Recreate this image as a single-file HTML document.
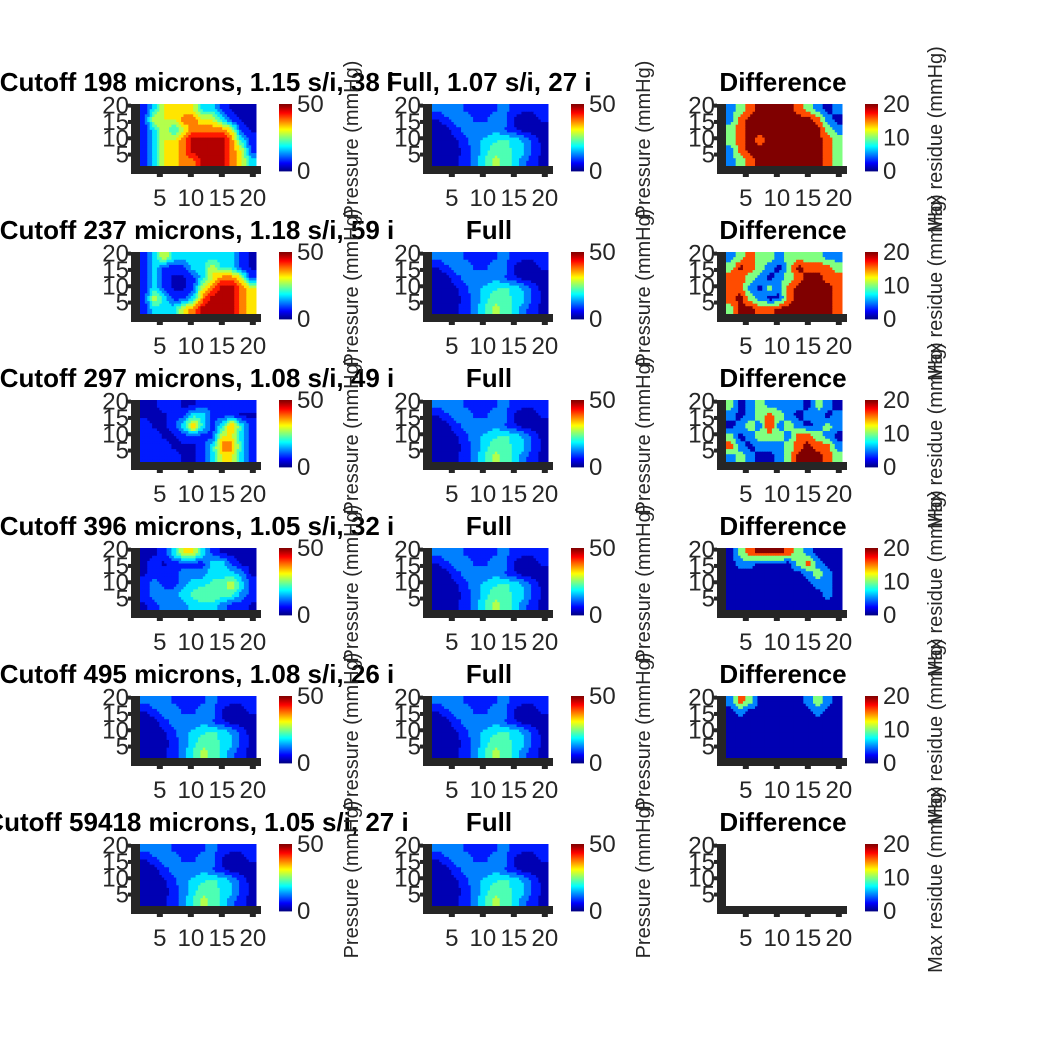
<!DOCTYPE html>
<html><head><meta charset="utf-8">
<style>
body{margin:0;background:#fff;}
svg{display:block;font-family:"Liberation Sans",Arial,sans-serif;}
</style></head>
<body>
<svg id="fig" width="1042" height="1042" viewBox="0 0 1042 1042"></svg>
<script>
// ---- data ----
const titles = [
 ["Cutoff 198 microns, 1.15 s/i, 38 i","Full, 1.07 s/i, 27 i","Difference"],
 ["Cutoff 237 microns, 1.18 s/i, 59 i","Full","Difference"],
 ["Cutoff 297 microns, 1.08 s/i, 49 i","Full","Difference"],
 ["Cutoff 396 microns, 1.05 s/i, 32 i","Full","Difference"],
 ["Cutoff 495 microns, 1.08 s/i, 26 i","Full","Difference"],
 ["Cutoff 59418 microns, 1.05 s/i, 27 i","Full","Difference"]
];
const xTicks = [5,10,15,20];
const yTicks = [5,10,15,20];
const pressureMax = 50;
const residueMax = 20;
const pressureTicks = [0,50];
const residueTicks = [0,10,20];
const residueLevels = [1,5,10,16,20];
const fullGrid = [
 [12,13,12,9,8,8,9,12,8,6,6,8],
 [4,9,13,13,9,9,13,12,4,2,3,6],
 [2,3,8,12,13,12,14,10,6,3,2,2],
 [2,2,4,9,14,16,19,21,18,14,8,3],
 [2,2,3,7,12,18,24,23,19,16,9,3],
 [3,3,4,8,13,20,26,24,18,12,6,4]
];
const cut198 = [
 [8,18,30,30,30,30,18,18,8,4,4,4],
 [8,30,30,30,38,38,30,30,18,8,4,4],
 [8,18,30,18,30,38,38,38,38,30,8,4],
 [8,18,30,30,38,48,48,48,48,38,18,8],
 [8,18,30,30,38,48,48,48,48,38,30,8],
 [8,18,30,30,38,38,48,48,48,38,30,18]
];
const cut237 = [
 [8,18,30,18,18,18,18,18,18,18,8,4],
 [8,18,8,8,8,18,18,30,18,18,8,4],
 [8,18,8,4,4,8,18,30,38,38,30,8],
 [8,18,8,4,4,8,30,38,48,48,38,30],
 [8,30,18,8,8,18,38,48,48,48,38,30],
 [8,18,18,18,30,38,48,48,48,48,38,30]
];
const cut297 = [
 [4,4,8,8,4,4,8,8,8,8,8,8],
 [4,4,4,8,8,18,18,8,8,8,4,4],
 [8,4,4,8,18,38,18,8,18,38,18,8],
 [8,8,4,4,8,8,8,8,30,30,18,8],
 [8,8,8,4,4,4,8,18,38,38,18,8],
 [8,8,8,8,4,4,8,18,30,30,18,8]
];
const cut396 = [
 [4,4,8,18,30,30,18,8,4,4,4,4],
 [4,8,4,8,8,8,8,18,18,8,4,4],
 [4,8,8,8,13,13,13,18,18,18,13,4],
 [8,13,8,8,13,18,18,22,22,30,18,8],
 [8,13,13,13,18,22,25,25,22,22,13,8],
 [4,8,13,13,13,18,18,18,13,8,8,4]
];
const diff198 = [
 [5,10,16,20,20,20,20,16,10,5,1,5],
 [5,16,20,20,20,20,20,20,20,16,5,1],
 [10,16,20,20,20,20,20,20,20,20,10,5],
 [10,16,20,16,20,20,20,20,20,20,16,10],
 [5,16,20,20,20,20,20,20,20,20,16,10],
 [5,10,16,20,20,20,20,20,20,20,16,10]
];
const diff237 = [
 [5,10,16,10,10,5,10,10,10,10,5,5],
 [10,20,16,10,5,1,10,20,16,16,16,10],
 [16,16,10,5,1,5,10,16,20,20,16,16],
 [16,16,5,1,10,5,16,20,20,20,20,16],
 [16,20,10,5,1,1,16,20,20,20,20,16],
 [10,20,20,16,16,20,20,20,20,20,20,16]
];
const diff297 = [
 [10,1,5,10,5,5,5,5,1,10,5,1],
 [5,1,5,10,16,10,5,1,5,5,1,5],
 [1,5,10,5,20,5,10,5,1,5,10,5],
 [10,1,5,10,10,10,5,16,16,10,5,1],
 [16,5,1,5,5,5,10,16,20,16,16,5],
 [5,10,5,1,1,5,10,20,20,20,16,10]
];
const diff396 = [
 [1,10,16,20,20,20,16,10,5,1,1,1],
 [1,5,5,1,1,1,1,10,16,5,1,1],
 [1,1,1,1,1,1,1,1,5,10,5,1],
 [1,1,1,1,1,1,1,1,1,5,5,1],
 [1,1,1,1,1,1,1,1,1,1,5,1],
 [1,1,1,1,1,1,1,1,1,1,1,1]
];
const diff495 = [
 [5,16,10,1,1,1,1,1,5,10,5,1],
 [1,5,1,1,1,1,1,1,1,5,1,1],
 [1,1,1,1,1,1,1,1,1,1,1,1],
 [1,1,1,1,1,1,1,1,1,1,1,1],
 [1,1,1,1,1,1,1,1,1,1,1,1],
 [1,1,1,1,1,1,1,1,1,1,1,1]
];
const panelGrids = [
 [cut198, fullGrid, diff198],
 [cut237, fullGrid, diff237],
 [cut297, fullGrid, diff297],
 [cut396, fullGrid, diff396],
 [fullGrid, fullGrid, diff495],
 [fullGrid, fullGrid, null]
];

// ---- drawing ----
const NS = "http://www.w3.org/2000/svg";
const svg = document.getElementById('fig');
function mk(tag, attrs, parent){
  const e = document.createElementNS(NS, tag);
  for (const k in attrs) e.setAttribute(k, attrs[k]);
  (parent||svg).appendChild(e); return e;
}
function jet(t){
  t = Math.max(0, Math.min(1, t));
  const c = v => Math.round(255*Math.max(0, Math.min(1, v)));
  return `rgb(${c(1.5-Math.abs(4*t-3))},${c(1.5-Math.abs(4*t-2))},${c(1.5-Math.abs(4*t-1))})`;
}
// bilinear sample of grid at fractional (row, col) for smoother contour look
function sample(grid, fr, fc){
  const nr = grid.length, nc = grid[0].length;
  fr = Math.max(0, Math.min(nr-1, fr)); fc = Math.max(0, Math.min(nc-1, fc));
  const r0 = Math.floor(fr), c0 = Math.floor(fc);
  const r1 = Math.min(nr-1, r0+1), c1 = Math.min(nc-1, c0+1);
  const a = fr - r0, b = fc - c0;
  return grid[r0][c0]*(1-a)*(1-b) + grid[r0][c1]*(1-a)*b + grid[r1][c0]*a*(1-b) + grid[r1][c1]*a*b;
}
function levelValue(v, isResidue){
  if (isResidue){
    let best = residueLevels[0];
    residueLevels.forEach(l => { if (Math.abs(l - v) < Math.abs(best - v)) best = l; });
    return best;
  }
  return Math.min(47.5, Math.floor(v/5)*5 + 2.5);
}
const colLeft = [140, 432, 726];
const cbLeft = [279, 571, 865];
const plotW = 116, plotH = 62, cbW = 13, cbH = 67;
const dark = "#262626";
const slug = ["cutoff","full","difference"];
const SUB = 4;

for (let r = 0; r < 6; r++){
  for (let c = 0; c < 3; c++){
    const L = colLeft[c], T = 104 + 148*r, B = T + plotH;
    const xs = v => L + (v - 1.8) * 6.2;
    const ys = v => B - (v - 1.5) * plotH / 19;
    const g = mk('g', {});
    
    
    const grid = panelGrids[r][c];
    const vmax = c === 2 ? residueMax : pressureMax;
    if (grid){
      const nr = grid.length, nc = grid[0].length;
      const NR = nr*SUB, NC = nc*SUB;
      const cw = plotW / NC, ch = plotH / NR;
      for (let i = 0; i < NR; i++) for (let j = 0; j < NC; j++){
        const fr = (i + 0.5)/SUB - 0.5, fc = (j + 0.5)/SUB - 0.5;
        const v = levelValue(sample(grid, fr, fc), c === 2);
        const cell = mk('rect', {x:(L + j*cw).toFixed(2), y:(T + i*ch).toFixed(2),
          width:(cw+0.5).toFixed(2), height:(ch+0.5).toFixed(2), fill:jet(v/vmax)}, g);
        
        
      }
    }
    const yAxis = mk('rect', {x:L-9, y:T, width:9, height:plotH+8, fill:dark}, g);
    
    
    const xAxis = mk('rect', {x:L-9, y:B, width:plotW+14, height:8, fill:dark}, g);
    
    
    xTicks.forEach(v => {
      const x = xs(v);
      mk('rect', {x:x-3, y:B+8, width:6, height:3, fill:dark}, g);
      const t = mk('text', {x:x, y:B+40, 'font-size':24, 'text-anchor':'middle', fill:'#262626'}, g);
      t.textContent = v;
      
      
    });
    yTicks.forEach(v => {
      const y = ys(v);
      mk('rect', {x:L-12, y:y-2, width:3, height:4, fill:dark}, g);
      const t = mk('text', {x:L-11, y:y+8, 'font-size':24, 'text-anchor':'end', fill:'#262626'}, g);
      t.textContent = v;
      
      
    });
    const tt = mk('text', {x:L+plotW/2-1, y:T-13, 'font-size':26, 'font-weight':'bold', 'text-anchor':'middle', fill:'#000'}, g);
    tt.textContent = titles[r][c];
    
    
    const cx = cbLeft[c];
    const cb = mk('g', {}, g);
    
    
    const n = 64;
    for (let k = 0; k < n; k++){
      mk('rect', {x:cx, y:(T + cbH - (k+1)*cbH/n).toFixed(2), width:cbW, height:(cbH/n+0.4).toFixed(2), fill:jet((k+0.5)/n)}, cb);
    }
    const ticks = c === 2 ? residueTicks : pressureTicks;
    ticks.forEach(v => {
      const y = T + cbH - v/vmax*cbH;
      const t = mk('text', {x:cx+cbW+5, y:y+8, 'font-size':24, fill:'#262626'}, cb);
      t.textContent = v;
      
      
    });
    const lx = c === 2 ? 942 : cx + 79, ly = T + cbH/2 + 2;
    const lab = mk('text', {x:lx, y:ly, 'font-size':20, 'text-anchor':'middle', fill:'#262626', transform:`rotate(-90 ${lx} ${ly})`}, cb);
    lab.textContent = c === 2 ? "Max residue (mmHg)" : "Pressure (mmHg)";
    
    
  }
}
</script>
</body></html>
